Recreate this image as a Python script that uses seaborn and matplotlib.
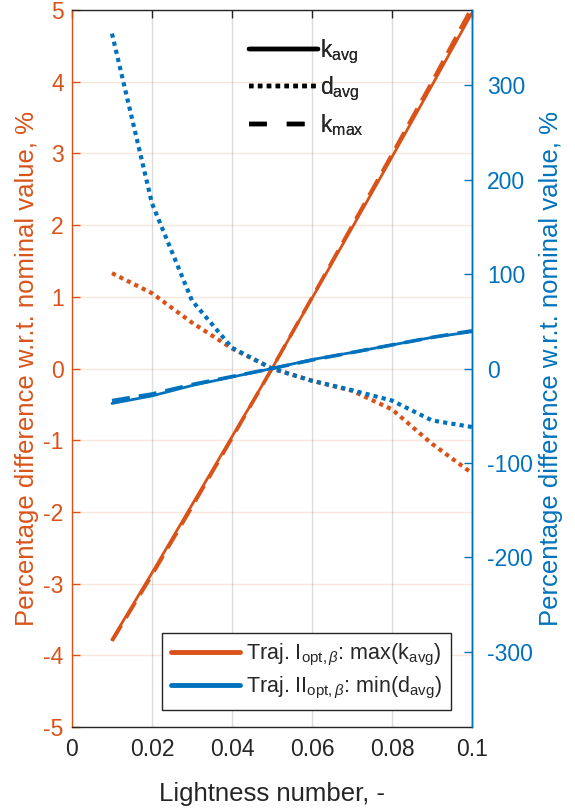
import matplotlib
matplotlib.use("Agg")
import matplotlib.pyplot as plt
import seaborn as sns
import numpy as np
import pandas as pd
from matplotlib.lines import Line2D

# ---- data ----
lightness = [0.01, 0.02, 0.03, 0.04, 0.05, 0.06, 0.07, 0.08, 0.09, 0.10]
# Trajectory I (left axis, %)
traj1_k_avg = [-3.78, -2.85, -1.90, -0.95, 0.00, 0.98, 1.96, 2.95, 3.95, 4.96]
traj1_k_max = [-3.80, -2.88, -1.93, -0.97, 0.00, 0.99, 1.99, 2.99, 4.00, 5.04]
traj1_d_avg = [1.33, 1.05, 0.64, 0.28, 0.00, -0.17, -0.31, -0.57, -1.05, -1.46]
# Trajectory II (right axis, %)
traj2_k_avg = [-37, -29, -18, -9, 0, 9.5, 17, 25, 33, 39]
traj2_k_max = [-34, -27, -17, -8.5, 0, 9, 17, 25, 33, 40]
traj2_d_avg = [355, 175, 72, 22, 0, -13, -23, -34, -55, -62]

left_ticks = [-5, -4, -3, -2, -1, 0, 1, 2, 3, 4, 5]
right_ticks = [-300, -200, -100, 0, 100, 200, 300]
x_ticks = [0, 0.02, 0.04, 0.06, 0.08, 0.1]
x_ticklabels = ["0", "0.02", "0.04", "0.06", "0.08", "0.1"]

ORANGE = "#D95319"
BLUE = "#0072BD"
DARK = "#262626"

sns.set_theme(style="white")
plt.rcParams["font.family"] = ["Liberation Sans", "DejaVu Sans"]
plt.rcParams["mathtext.fontset"] = "custom"
plt.rcParams["mathtext.rm"] = "Liberation Sans"
plt.rcParams["mathtext.it"] = "Liberation Sans:italic"
plt.rcParams["mathtext.bf"] = "Liberation Sans:bold"

fig = plt.figure(figsize=(5.75, 8.08), dpi=100)
ax = fig.add_axes([0.1252, 0.1002, 0.6957, 0.8874])
ax2 = ax.twinx()

dot = (0, (1.0, 1.0))
dash = (0, (5.0, 2.5))

sns.lineplot(x=lightness, y=traj1_k_avg, ax=ax, color=ORANGE, lw=2.0, linestyle="-")
sns.lineplot(x=lightness, y=traj1_k_max, ax=ax, color=ORANGE, lw=2.6, linestyle=dash)
sns.lineplot(x=lightness, y=traj1_d_avg, ax=ax, color=ORANGE, lw=3.0, linestyle=dot)

sns.lineplot(x=lightness, y=traj2_k_avg, ax=ax2, color=BLUE, lw=2.0, linestyle="-")
sns.lineplot(x=lightness, y=traj2_k_max, ax=ax2, color=BLUE, lw=2.6, linestyle=dash)
sns.lineplot(x=lightness, y=traj2_d_avg, ax=ax2, color=BLUE, lw=3.0, linestyle=dot)

ax.set_xlim(0, 0.1)
ax.set_ylim(-5, 5)
ax2.set_ylim(-380, 380)

ax.set_xticks(x_ticks)
ax.set_xticklabels(x_ticklabels)
ax.set_yticks(left_ticks)
ax.set_yticklabels([str(t) for t in left_ticks])
ax2.set_yticks(right_ticks)
ax2.set_yticklabels([str(t) for t in right_ticks])

# grids
ax.xaxis.grid(True, color="#dcdcdc", lw=1)
ax.yaxis.grid(True, color=ORANGE, alpha=0.15, lw=1)
ax.set_axisbelow(True)

# spines & ticks
for sp in ax.spines.values():
    sp.set_linewidth(1.0)
ax.spines["left"].set_color(ORANGE)
ax.spines["bottom"].set_color(DARK)
ax.spines["top"].set_color(DARK)
ax2.spines["right"].set_color(BLUE)
ax2.spines["right"].set_linewidth(1.0)
ax2.spines["left"].set_visible(False)
ax2.spines["top"].set_visible(False)
ax2.spines["bottom"].set_visible(False)

ax.tick_params(axis="x", direction="in", length=6, colors=DARK, labelsize=16.5, top=True, pad=8, width=1)
ax.tick_params(axis="y", direction="in", length=6, colors=ORANGE, labelsize=16.5, width=1, pad=6)
ax2.tick_params(axis="y", direction="in", length=6, colors=BLUE, labelsize=16.5, width=1, pad=11)

ax.set_xlabel("Lightness number, -", fontsize=18.5, color=DARK, labelpad=15)
ax.set_ylabel("Percentage difference w.r.t. nominal value, %", fontsize=18.5, color=ORANGE, labelpad=3)
ax2.set_ylabel("Percentage difference w.r.t. nominal value, %", fontsize=18.5, color=BLUE, labelpad=4)

# legend for trajectories
h1 = [Line2D([], [], color=ORANGE, lw=3.5), Line2D([], [], color=BLUE, lw=3.5)]
l1 = [r"Traj. I$_{\mathrm{opt,}\beta}$: max(k$_{\mathrm{avg}}$)",
      r"Traj. II$_{\mathrm{opt,}\beta}$: min(d$_{\mathrm{avg}}$)"]
leg1 = ax2.legend(h1, l1, loc="lower right", bbox_to_anchor=(0.9475, 0.0237), fontsize=15.5,
                  frameon=True, fancybox=False, edgecolor=DARK, handlelength=3.2,
                  handletextpad=0.3, borderpad=0.4, labelspacing=0.35, borderaxespad=0)
leg1.get_frame().set_linewidth(1.0)
leg1.get_frame().set_facecolor("white")
leg1.get_frame().set_alpha(1)
ax2.add_artist(leg1)

# legend for line styles
h2 = [Line2D([], [], color="black", lw=3.2, linestyle="-"),
      Line2D([], [], color="black", lw=3.2, linestyle=(0, (1.0, 1.0))),
      Line2D([], [], color="black", lw=3.2, linestyle=(0, (4.0, 4.5)))]
l2 = [r"k$_{\mathrm{avg}}$", r"d$_{\mathrm{avg}}$", r"k$_{\mathrm{max}}$"]
leg2 = ax2.legend(h2, l2, loc="upper left", bbox_to_anchor=(0.42, 0.975), fontsize=16.5,
                  frameon=False, handlelength=3.0, handletextpad=0.1, labelspacing=0.4,
                  borderaxespad=0)
ax2.add_artist(leg2)

fig.savefig("out.png", dpi=100)
